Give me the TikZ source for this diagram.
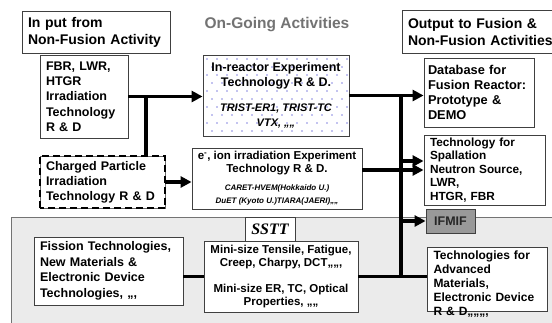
\documentclass[tikz,border=0pt]{standalone}
\usepackage{fontspec}
\setmainfont{Liberation Sans}
\newfontfamily\serifbi{Liberation Serif}
\usetikzlibrary{arrows.meta}
\begin{document}
\begin{tikzpicture}[x=1pt,y=-1pt,
  box/.style={draw=black!75, line width=0.9pt, fill=white, inner xsep=6pt, inner ysep=2pt,
    font=\bfseries\fontsize{12.5}{15}\selectfont},
  lbox/.style={box, align=left},
  cbox/.style={box, align=center},
  conn/.style={line width=3.2pt},
  arr/.style={conn, -{Triangle[length=11pt,width=11pt]}},
  hfont/.style={font=\bfseries\fontsize{14}{17}\selectfont}
]
\clip (0,0) rectangle (552,322);
\fill[white] (0,0) rectangle (552,322);
% grey region
\draw[fill=black!8, draw=black!55, line width=0.8pt] (11,217) rectangle (570,340);

% title
\node[font=\bfseries\fontsize{15.5}{18}\selectfont, text=black!55] (title) at (277,25) {On-Going Activities};

% left column
\node[lbox, hfont, text width=136pt, minimum height=42pt] (inp) at (96,32) {In put from\\Non-Fusion Activity};
\node[lbox, text width=76pt, minimum height=83pt, font=\bfseries\fontsize{12.5}{15.3}\selectfont] (fbr) at (84,96.5) {FBR, LWR,\\HTGR\\Irradiation\\Technology\\R \& D};
\node[lbox, draw=black!60, line width=0.6pt, text width=113pt, minimum height=52pt] (chg) at (102.5,182) {Charged Particle\\Irradiation\\Technology R \& D};
\draw[line width=2.2pt, dash pattern=on 7pt off 4pt] (chg.south west) rectangle (chg.north east);
\node[lbox, text width=137pt, minimum height=68pt, font=\bfseries\fontsize{12.5}{15.5}\selectfont] (fis) at (108.5,271) {Fission Technologies,\\New Materials \&\\Electronic Device\\Technologies, ,,,};

% middle column
\node[cbox, minimum width=146pt, minimum height=81pt, path picture={
  \foreach \j in {0,...,10} \foreach \i in {0,...,15}
    \fill[blue!75!black] ([shift={({\i*10pt+mod(\j,2)*5pt+4pt},{-\j*8pt-4pt})}]path picture bounding box.north west) circle (0.55pt);
}] (inr) at (276,95.5) {In-reactor Experiment\\Technology R \& D.\\[10pt]\fontsize{11}{13}\selectfont\itshape TRIST-ER1, TRIST-TC\\\fontsize{11}{13}\selectfont\itshape VTX, ,,,,};
\node[cbox, minimum width=170pt, minimum height=61pt, inner xsep=3pt, font=\bfseries\fontsize{11.5}{13}\selectfont] (eion) at (277,178.5) {e\textsuperscript{-}, ion irradiation Experiment\\Technology R \& D.\\[5pt]\fontsize{8}{10}\selectfont\itshape CARET-HVEM(Hokkaido U.)\\\fontsize{8}{10}\selectfont\itshape DuET (Kyoto U.)TIARA(JAERI),,,,};
\node[cbox, minimum width=50pt, minimum height=24pt, inner sep=0pt, font=\serifbi\bfseries\itshape\fontsize{16}{18}\selectfont] (sstt) at (270,229) {SSTT};
\node[cbox, minimum width=154pt, minimum height=71pt, font=\bfseries\fontsize{11.5}{13}\selectfont] (mini) at (281,276.5) {Mini-size Tensile, Fatigue,\\Creep, Charpy, DCT,,,,,\\[13pt]Mini-size ER, TC, Optical\\Properties, ,,,,};

% right column
\node[lbox, hfont, text width=146pt, minimum height=43pt] (out) at (481,31.5) {Output to Fusion \&\\Non-Fusion Activities};
\node[lbox, inner xsep=4pt, text width=102pt, minimum height=69pt, font=\bfseries\fontsize{12.8}{15}\selectfont] (db) at (479,92.5) {Database for\\Fusion Reactor:\\Prototype \&\\DEMO};
\node[lbox, text width=109pt, minimum height=70pt, font=\bfseries\fontsize{11.8}{13.5}\selectfont] (spl) at (484.5,170) {Technology for\\Spallation\\Neutron Source,\\LWR,\\HTGR, FBR};
\node[cbox, fill=black!40, text=black!85, minimum width=49pt, minimum height=24pt, inner sep=0pt] (ifm) at (450.5,221) {IFMIF};
\node[lbox, anchor=north, text width=108pt, inner ysep=2pt, text height=10pt, text depth=50pt, font=\bfseries\fontsize{12}{14}\selectfont] (adv) at (487.5,247) {Technologies for\\Advanced\\Materials,\\Electronic Device\\R \& D,,,,,,,};

% connectors
\coordinate (jx) at (146,0);
\coordinate (bx) at (401,0);
\coordinate (s1) at ([yshift=9pt]spl.west);
\coordinate (e1) at ([yshift=8.5pt]eion.east);
\draw[conn] (jx |- fbr.east) -- (jx |- chg.north);
\draw[arr] (fbr.east) -- (fbr.east -| inr.west);
\draw[arr] (chg.east) -- (chg.east -| eion.west);
\draw[arr] (inr.east) -- (inr.east -| db.west);
\draw[conn] (bx |- inr.east) -- (bx |- mini.east);
\draw[arr] (s1 -| bx) -- (s1);
\draw[arr] (e1) -- (e1 -| spl.west);
\draw[arr] (bx |- ifm.west) -- (ifm.west);
\draw[conn] (fis.east |- mini.west) -- (mini.west);
\draw[conn] (mini.east) -- (mini.east -| adv.west);
\end{tikzpicture}
\end{document}
